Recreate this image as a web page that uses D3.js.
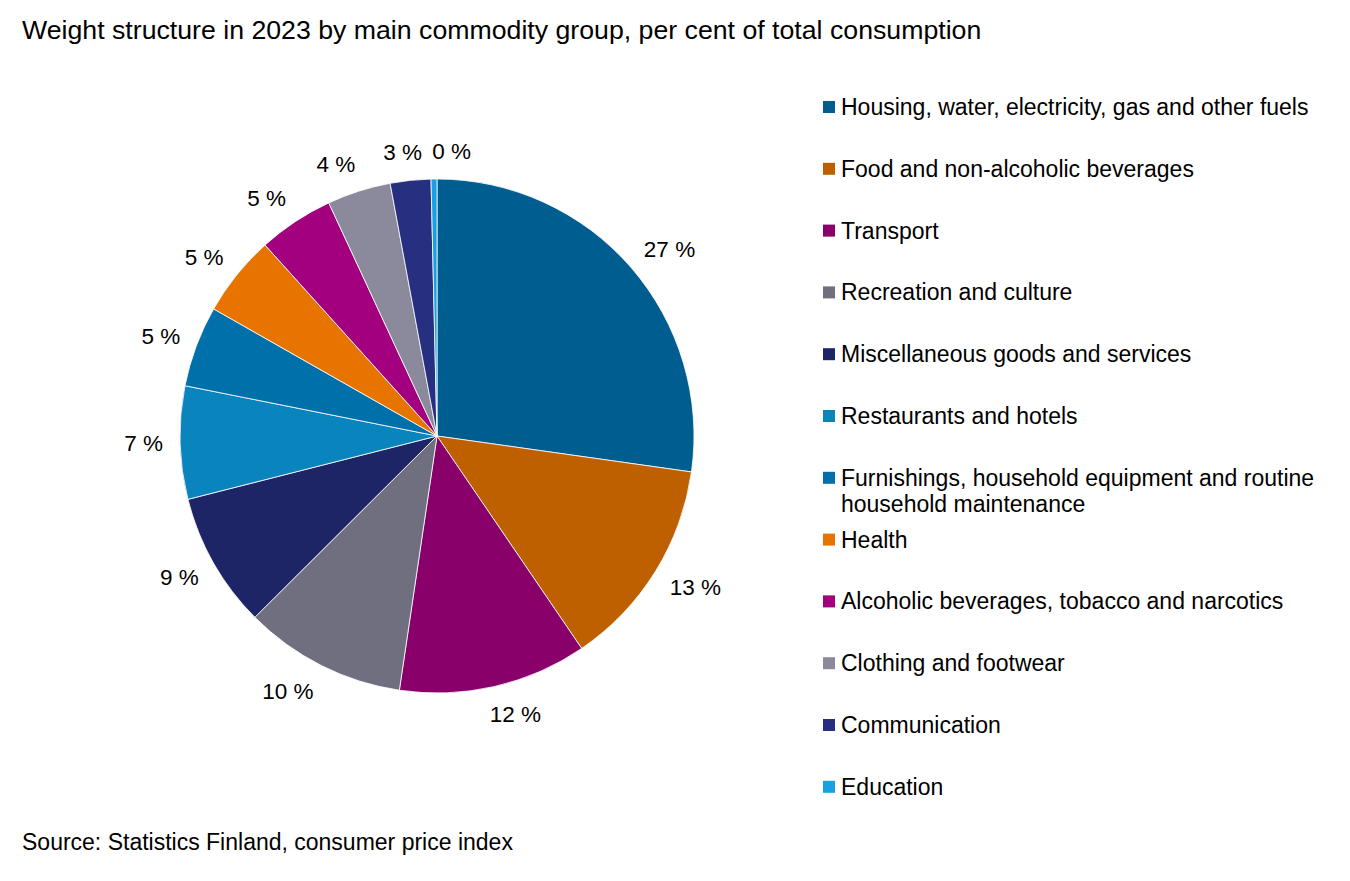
<!DOCTYPE html>
<html>
<head>
<meta charset="utf-8">
<script src="https://cdn.jsdelivr.net/npm/d3@7"></script>
<style>
  html, body { margin: 0; padding: 0; background: #fff; }
  svg { display: block; font-family: "Liberation Sans", Arial, sans-serif; }
</style>
</head>
<body>
<svg id="chart" width="1350" height="881"></svg>
<script>
// ---- data ----
const categories = [
  "Housing, water, electricity, gas and other fuels",
  "Food and non-alcoholic beverages",
  "Transport",
  "Recreation and culture",
  "Miscellaneous goods and services",
  "Restaurants and hotels",
  "Furnishings, household equipment and routine household maintenance",
  "Health",
  "Alcoholic beverages, tobacco and narcotics",
  "Clothing and footwear",
  "Communication",
  "Education"
];
const weights = [27.24, 13.25, 11.86, 10.2, 8.5, 7.1, 5.1, 5.1, 4.75, 4.0, 2.55, 0.37];
const valueLabels = ["27 %", "13 %", "12 %", "10 %", "9 %", "7 %", "5 %", "5 %", "5 %", "4 %", "3 %", "0 %"];
const colors = ["#005d8f", "#bf6000", "#8a006b", "#6f6f7f", "#1e2566", "#0a84bd",
                "#0070aa", "#e87400", "#a2007f", "#8a8a9c", "#262f80", "#18a0e0"];
const title = "Weight structure in 2023 by main commodity group, per cent of total consumption";
const source = "Source: Statistics Finland, consumer price index";

// ---- layout ----
const svg = d3.select("#chart");
const cx = 437, cy = 436, r = 257;

svg.append("text")
  .attr("x", 22).attr("y", 30).attr("dy", "0.35em")
  .attr("font-size", 26.7).attr("fill", "#000")
  .text(title);

svg.append("text")
  .attr("x", 22).attr("y", 842).attr("dy", "0.35em")
  .attr("font-size", 23).attr("fill", "#000")
  .text(source);

const data = categories.map((c, i) => ({ name: c, value: weights[i], label: valueLabels[i], color: colors[i] }));

const pie = d3.pie().value(d => d.value).sort(null);
const arcs = pie(data);
const arc = d3.arc().innerRadius(0).outerRadius(r);

const g = svg.append("g").attr("transform", `translate(${cx},${cy})`);
g.selectAll("path.slice")
  .data(arcs)
  .enter().append("path")
  .attr("class", "slice")
  .attr("d", arc)
  .attr("fill", d => d.data.color)
  .attr("stroke", "#ffffff")
  .attr("stroke-width", 0.8)
  .attr("stroke-linejoin", "round");

// ---- value labels ----
const labelR = r + 17;
const fontSize = 22.5;
const labels = g.selectAll("text.vlabel")
  .data(arcs)
  .enter().append("text")
  .attr("class", "vlabel")
  .attr("font-size", fontSize)
  .attr("text-anchor", "middle")
  .attr("dy", "0.35em")
  .attr("fill", "#000")
  .text(d => d.data.label);

const boxes = [];
labels.each(function(d) {
  const w = this.getComputedTextLength();
  const h = fontSize;
  const a = (d.startAngle + d.endAngle) / 2;
  const s = Math.sin(a), c = Math.cos(a);
  let x = labelR * s + (w / 2) * Math.max(-1, Math.min(1, s * 3));
  let y = -labelR * c - (h / 2) * c;
  boxes.push({ el: this, x, y, w, h });
});
// simple overlap resolution: push later label to the right
for (let i = 1; i < boxes.length; i++) {
  const p = boxes[i - 1], b = boxes[i];
  const overlapX = Math.abs(b.x - p.x) < (b.w + p.w) / 2 + 8;
  const overlapY = Math.abs(b.y - p.y) < (b.h + p.h) / 2;
  if (overlapX && overlapY) {
    b.x = p.x + (p.w + b.w) / 2 + 10;
  }
}
boxes.forEach(b => d3.select(b.el).attr("x", b.x).attr("y", b.y));

// ---- legend ----
const legendX = 823, legendY0 = 107, legendStep = 61.8, sq = 12, maxW = 500;
const legend = svg.append("g");
data.forEach((d, i) => {
  const y = legendY0 + i * legendStep;
  legend.append("rect")
    .attr("x", legendX).attr("y", y - sq / 2)
    .attr("width", sq).attr("height", sq)
    .attr("fill", d.color);
  const t = legend.append("text")
    .attr("x", legendX + 18).attr("y", y).attr("dy", "0.35em")
    .attr("font-size", 23).attr("fill", "#000");
  // word wrap
  const words = d.name.split(" ");
  let line = [];
  let tspan = t.append("tspan").attr("x", legendX + 18).attr("y", y).attr("dy", "0.35em");
  let lineNo = 0;
  words.forEach(w => {
    line.push(w);
    tspan.text(line.join(" "));
    if (tspan.node().getComputedTextLength() > maxW && line.length > 1) {
      line.pop();
      tspan.text(line.join(" "));
      line = [w];
      lineNo++;
      tspan = t.append("tspan").attr("x", legendX + 18).attr("y", y + lineNo * 26).attr("dy", "0.35em").text(w);
    }
  });
});
</script>
</body>
</html>
